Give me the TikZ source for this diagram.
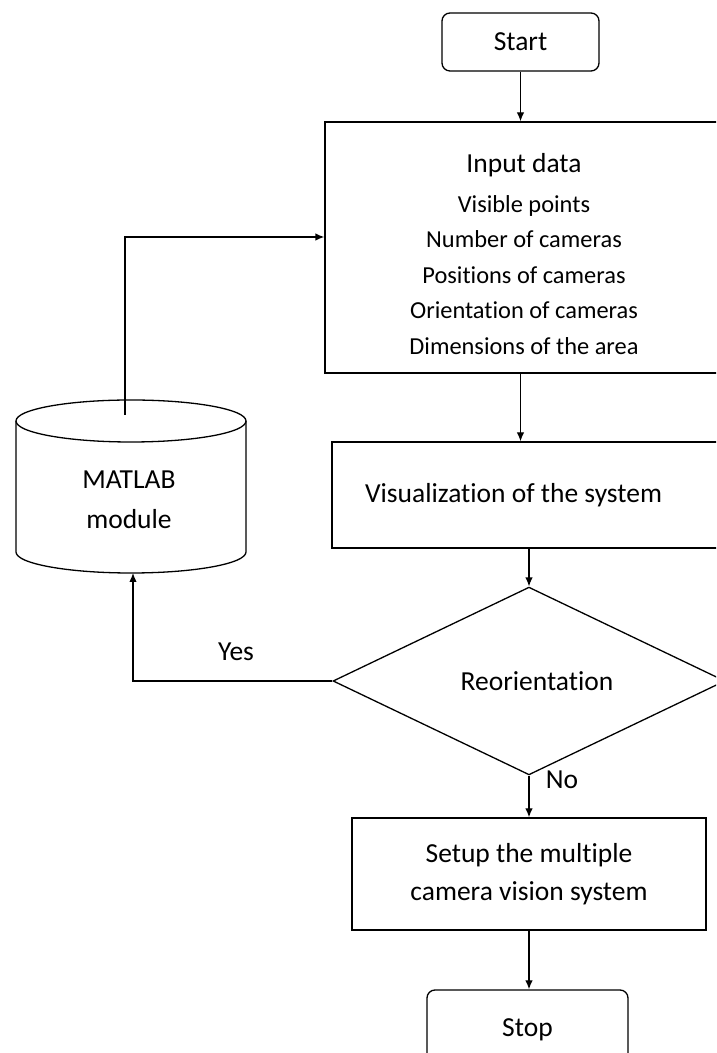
\documentclass[tikz,border=0pt]{standalone}
\usepackage{fontspec}
\setmainfont{Carlito}[Ligatures=NoCommon]
\usetikzlibrary{arrows.meta,shapes.geometric}
\begin{document}
\begin{tikzpicture}[x=1pt,y=1pt,
  line width=1.3pt,
  base/.style={font=\fontsize{27.5}{38}\selectfont},
  procbox/.style={base,draw,rectangle,inner sep=0pt,align=center},
  termbox/.style={procbox,rounded corners=8pt},
  decide/.style={base,draw,diamond,inner sep=0pt},
  arr/.style={-{Latex[length=9pt,width=7.5pt]}}
]
\useasboundingbox (0,0) rectangle (716,1053);
\clip (0,0) rectangle (716,1053);

% terminals and process steps
\node[termbox,minimum width=157,minimum height=58] (start) at (520.5,1011) {Start};
\node[procbox,minimum width=398,minimum height=251,font=\fontsize{24.4}{35.5}\selectfont] (input) at (524,805.5)
  {{\fontsize{27.5}{33}\selectfont\rule{0pt}{32pt}Input data}\\[4.5pt]
   Visible points\\
   Number of cameras\\
   Positions of cameras\\
   Orientation of cameras\\
   Dimensions of the area};
\node[procbox,minimum height=106,text width=327,inner xsep=33pt,align=flush left] (vis) at (528.5,558)
  {Visualization of the system};
\node[decide,minimum width=392,minimum height=148] (reo) at (529,372) {\hspace*{16pt}Reorientation};
\node[procbox,minimum width=354,minimum height=112] (setup) at (529,179)
  {Setup the multiple\\camera vision system};
\node[termbox,minimum width=201,minimum height=80] (stop) at (527.5,23) {Stop};

% MATLAB module drawn as a cylinder
\draw (16,632) -- (16,501) arc[start angle=180,end angle=360,x radius=115,y radius=21] -- (246,632);
\draw (131,632) ellipse [x radius=115,y radius=21];
\node[base,align=center,font=\fontsize{27.5}{40}\selectfont] (mlab) at (129,553) {MATLAB\\module};
\coordinate (dbtop) at (125,638);
\coordinate (dbbot) at (133,480);
\coordinate (fb) at (125,816);

% connectors
\draw[arr] (start.south) -- (start.south |- input.north);
\draw[arr] (start.south |- input.south) -- (start.south |- vis.north);
\draw[arr] (reo.north |- vis.south) -- (reo.north);
\draw[arr] (reo.south) -- (setup.north);
\draw[arr] (setup.south) -- (setup.south |- stop.north);
\draw[arr] (reo.west) -| (dbbot);
\draw[arr] (dbtop) -- (fb) -- (fb -| input.west);

% branch labels
\node[base] (yes) at (236,401) {Yes};
\node[base] (no) at (562,273) {No};
\end{tikzpicture}
\end{document}
